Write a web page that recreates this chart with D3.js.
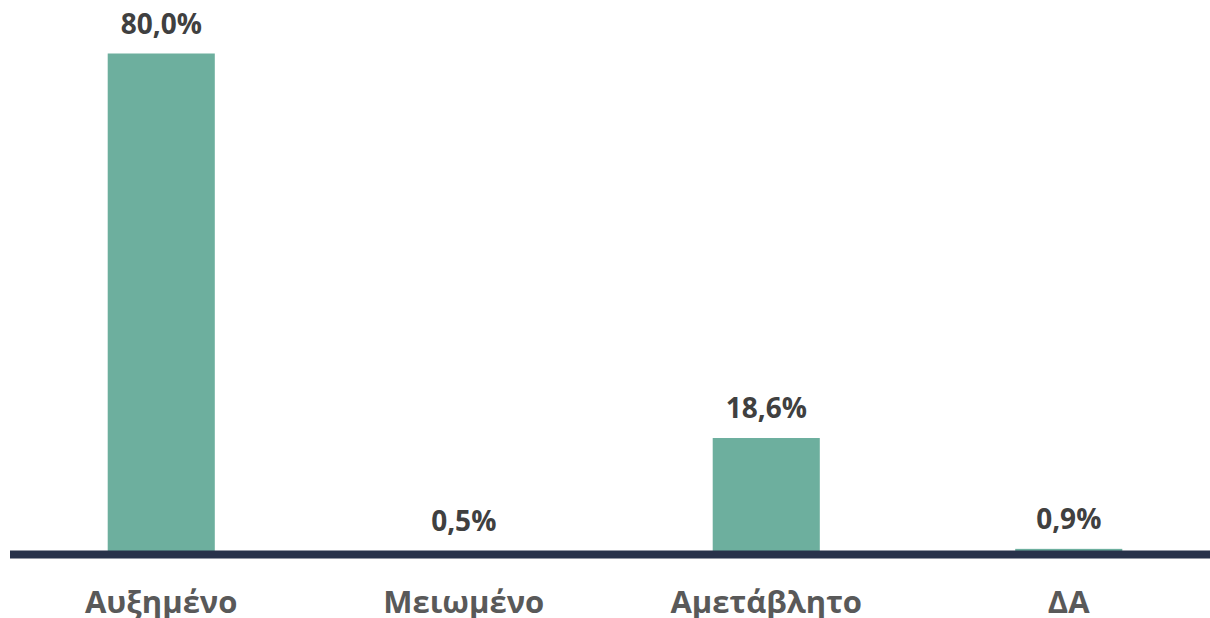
<!DOCTYPE html>
<html>
<head>
<meta charset="utf-8">
<script src="https://cdn.jsdelivr.net/npm/d3@7"></script>
<style>
  body { margin: 0; background: #fff; }
  text { font-family: "Open Sans", sans-serif; font-weight: bold; }
</style>
</head>
<body>
<div id="chart"></div>
<script>
// data
var categories = ["Αυξημένο", "Μειωμένο", "Αμετάβλητο", "ΔΑ"];
var values = [80.0, 0.5, 18.6, 0.9];
var labels = ["80,0%", "0,5%", "18,6%", "0,9%"];

var width = 1210, height = 618;
var baseY = 554.5;

var svg = d3.select("#chart")
  .append("svg")
    .attr("width", width)
    .attr("height", height);

// scales
var x = d3.scaleBand()
  .domain(categories)
  .range([10, 1220])
  .paddingInner(0.646)
  .paddingOuter(0.323);

var y = d3.scaleLinear()
  .domain([0, 80])
  .range([baseY, 53.5]);

// bars
svg.append("g")
  .selectAll("rect")
  .data(values)
  .enter()
  .append("rect")
    .attr("x", (d, i) => x(categories[i]))
    .attr("y", d => y(d))
    .attr("width", x.bandwidth())
    .attr("height", d => baseY - y(d))
    .style("fill", "#6daf9e");

// axis line drawn over bars
var xAxis = svg.append("g")
  .attr("transform", "translate(0," + baseY + ")")
  .call(d3.axisBottom(x).tickSize(0).tickPadding(36));
xAxis.select(".domain")
  .attr("d", "M10,0H" + width)
  .attr("stroke", "#28324a")
  .attr("stroke-width", 8);
xAxis.selectAll("text")
  .attr("font-size", "31px")
  .attr("font-family", "'Open Sans', sans-serif")
  .attr("font-weight", "bold")
  .attr("fill", "#595959");

// value labels
svg.append("g")
  .selectAll("text")
  .data(values)
  .enter()
  .append("text")
    .text((d, i) => labels[i])
    .attr("x", (d, i) => x(categories[i]) + x.bandwidth() / 2)
    .attr("y", d => Math.min(y(d), baseY - 4) - 20)
    .attr("text-anchor", "middle")
    .attr("font-size", "28px")
    .attr("fill", "#404040");
</script>
</body>
</html>
